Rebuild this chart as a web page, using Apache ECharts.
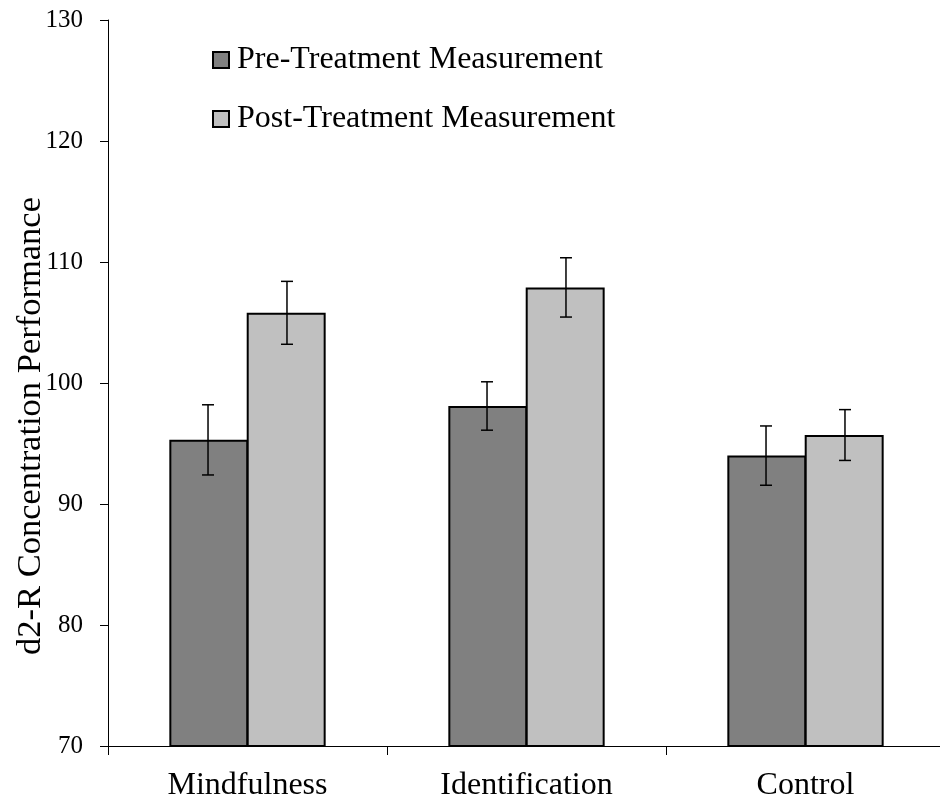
<!DOCTYPE html>
<html>
<head>
<meta charset="utf-8">
<script src="https://cdn.jsdelivr.net/npm/echarts@6/dist/echarts.min.js"></script>
<style>
  html, body { margin: 0; padding: 0; background: #fff; }
  #chart { width: 940px; height: 803px; }
</style>
</head>
<body>
<div id="chart"></div>
<script>
// Group means and standard errors of d2-R concentration performance
const groups = ['Mindfulness', 'Identification', 'Control'];
const seriesNames = ['Pre-Treatment Measurement', 'Post-Treatment Measurement'];
const preValues = [95.3, 98.1, 94.0];
const postValues = [105.8, 107.9, 95.7];
const preErrors = [2.9, 2.0, 2.45];
const postErrors = [2.6, 2.45, 2.1];
const yTicks = [70, 80, 90, 100, 110, 120, 130];

const FONT = '"Liberation Serif", "Times New Roman", serif';
const BAR_FRACTION = 0.283;

const chart = echarts.init(document.getElementById('chart'), null, { renderer: 'canvas' });

// Draws a vertical error bar with caps, centred on one bar of the pair
function errorBar(means, errors, side) {
  return function (params, api) {
    const i = api.value(0);
    const mean = means[i];
    const err = errors[i];
    const band = api.size([1, 0])[0];
    const dx = side * band * BAR_FRACTION / 2;
    const top = api.coord([i, mean + err]);
    const bot = api.coord([i, mean - err]);
    const x = top[0] + dx;
    const cap = 6;
    const style = { stroke: '#000', lineWidth: 1.5 };
    return {
      type: 'group',
      children: [
        { type: 'line', shape: { x1: x, y1: top[1], x2: x, y2: bot[1] }, style },
        { type: 'line', shape: { x1: x - cap, y1: top[1], x2: x + cap, y2: top[1] }, style },
        { type: 'line', shape: { x1: x - cap, y1: bot[1], x2: x + cap, y2: bot[1] }, style }
      ]
    };
  };
}

const option = {
  backgroundColor: '#fff',
  animation: false,
  grid: { left: 108, top: 20, width: 837, height: 726, containLabel: false, outerBoundsMode: 'none' },
  legend: {
    data: seriesNames,
    orient: 'vertical',
    left: 212,
    top: 44,
    padding: 0,
    itemWidth: 16,
    itemHeight: 16,
    itemGap: 27,
    icon: 'rect',
    textStyle: { fontFamily: FONT, fontSize: 32, color: '#000', padding: [0, 0, 0, 3] },
    itemStyle: { borderColor: '#000', borderWidth: 2 }
  },
  xAxis: {
    type: 'category',
    data: groups,
    axisLine: { lineStyle: { color: '#000', width: 1 } },
    axisTick: { show: true, length: 9, inside: false, lineStyle: { color: '#000' } },
    axisLabel: { fontFamily: FONT, fontSize: 32, color: '#000', margin: 24 },
    splitLine: { show: false }
  },
  yAxis: {
    type: 'value',
    min: yTicks[0],
    max: yTicks[yTicks.length - 1],
    interval: 10,
    name: 'd2-R Concentration Performance',
    nameLocation: 'middle',
    nameGap: 60,
    nameRotate: 90,
    nameMoveOverlap: false,
    nameTextStyle: { fontFamily: FONT, fontSize: 34.5, color: '#000', padding: [0, 86, 0, 0] },
    axisLine: { show: true, lineStyle: { color: '#000', width: 1 } },
    axisTick: { show: true, length: 8, lineStyle: { color: '#000' } },
    axisLabel: { fontFamily: FONT, fontSize: 25, color: '#000', margin: 25 },
    splitLine: { show: false }
  },
  series: [
    {
      name: seriesNames[0],
      type: 'bar',
      data: preValues,
      barWidth: (BAR_FRACTION * 100) + '%',
      barGap: '-2%',
      itemStyle: { color: '#808080', borderColor: '#000', borderWidth: 2 }
    },
    {
      name: seriesNames[1],
      type: 'bar',
      data: postValues,
      barWidth: (BAR_FRACTION * 100) + '%',
      barGap: '-2%',
      itemStyle: { color: '#c0c0c0', borderColor: '#000', borderWidth: 2 }
    },
    {
      type: 'custom',
      name: 'preError',
      renderItem: errorBar(preValues, preErrors, -1),
      data: groups.map((g, i) => [i]),
      encode: { x: 0 },
      z: 5,
      silent: true
    },
    {
      type: 'custom',
      name: 'postError',
      renderItem: errorBar(postValues, postErrors, 1),
      data: groups.map((g, i) => [i]),
      encode: { x: 0 },
      z: 5,
      silent: true
    }
  ]
};

chart.setOption(option);
</script>
</body>
</html>
